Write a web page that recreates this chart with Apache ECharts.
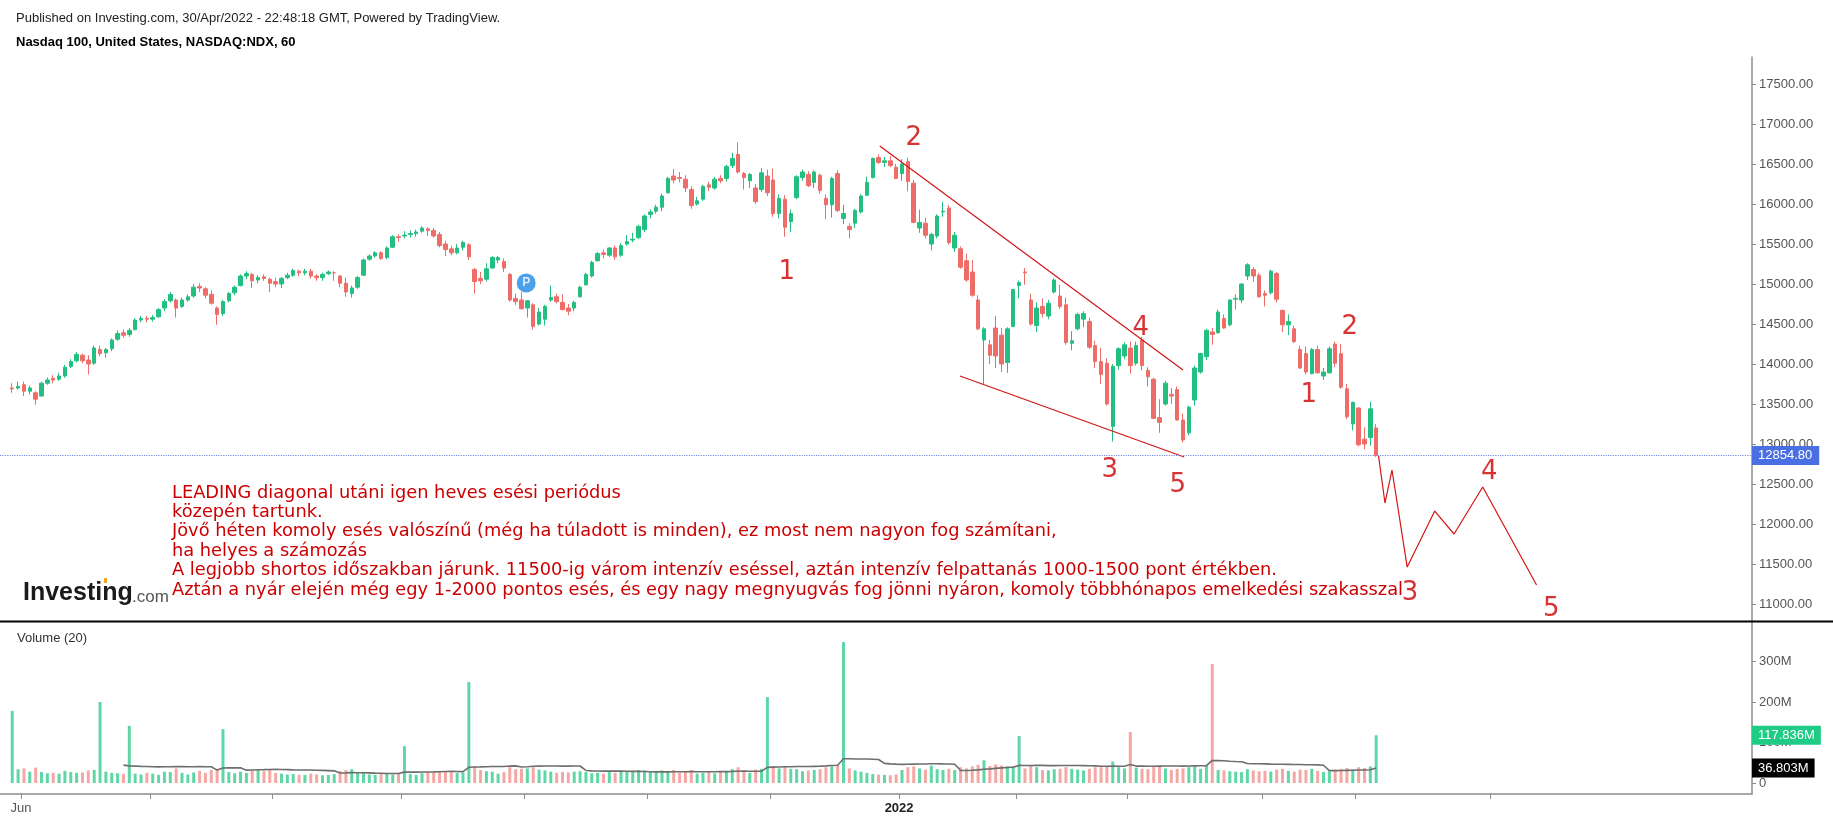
<!DOCTYPE html>
<html>
<head>
<meta charset="utf-8">
<title>Nasdaq 100, United States, NASDAQ:NDX, 60</title>
<script src="https://cdn.jsdelivr.net/npm/echarts@6.0.0/dist/echarts.min.js"></script>
<style>
html, body { margin: 0; padding: 0; background: #fff; }
#chart { width: 1833px; height: 821px; }
</style>
</head>
<body>
<div id="chart"></div>
<script>
// x positions are trading-day numbers counted from 27 May 2021 (day 0)
var xMin = -1.59, xMax = 297.7;
var monthTicks = [2, 24, 45, 67, 88, 109, 130, 152, 172, 191, 214, 230, 253];
var xLabelAt = [2, 152];
var xLabelText = ['Jun', '2022'];
var priceTicks = [11000, 11500, 12000, 12500, 13000, 13500, 14000, 14500, 15000, 15500, 16000, 16500, 17000, 17500];
var volTicks = [0, 100, 200, 300];
var lastPrice = 12854.8;
var volLast = 117.836;
var maLast = 36.803;

// [open, close, low, high]
var candles = [
  [13700,13690,13640,13760],[13700,13720,13680,13780],[13740,13660,13600,13780],[13660,13700,13620,13730],
  [13640,13560,13490,13660],[13600,13760,13590,13780],[13760,13800,13740,13830],[13820,13800,13760,13860],
  [13810,13850,13790,13890],[13850,13960,13830,13990],[13970,14030,13950,14060],[14040,14120,14020,14150],
  [14110,14040,14010,14130],[14050,14000,13870,14110],[14010,14200,13990,14230],[14180,14130,14100,14230],
  [14140,14180,14080,14200],[14190,14300,14160,14320],[14310,14380,14290,14420],[14390,14360,14330,14430],
  [14370,14420,14340,14450],[14430,14550,14420,14570],[14550,14570,14520,14600],[14570,14560,14520,14600],
  // Jul
  [14560,14580,14530,14610],[14590,14680,14580,14700],[14700,14780,14660,14810],[14790,14870,14770,14900],
  [14800,14700,14580,14820],[14720,14800,14700,14830],[14800,14840,14780,14870],[14850,14960,14830,15000],
  [14970,14950,14900,15010],[14940,14860,14820,14960],[14870,14760,14740,14920],[14700,14620,14490,14720],
  [14630,14780,14600,14800],[14790,14880,14770,14900],[14890,14960,14860,14980],[14980,15100,14970,15120],
  [15100,15130,15060,15160],[15120,15040,14950,15140],[15050,15080,15010,15110],[15090,15070,15040,15120],
  [15060,15010,14900,15080],
  // Aug
  [15030,15000,14960,15080],[15000,15070,14950,15090],[15080,15110,15060,15140],[15110,15170,15090,15190],
  [15160,15140,15100,15180],[15140,15160,15110,15190],[15160,15100,15070,15190],[15100,15080,15040,15120],
  [15080,15120,15040,15140],[15130,15150,15110,15170],[15140,15140,15040,15160],[15100,15010,14960,15110],
  [15010,14900,14840,15080],[14880,14950,14830,14980],[14960,15080,14940,15100],[15110,15300,15100,15320],
  [15310,15350,15290,15370],[15350,15390,15330,15410],[15390,15320,15300,15410],[15330,15450,15310,15470],
  [15460,15590,15450,15610],[15590,15580,15530,15620],
  // Sep
  [15600,15610,15570,15660],[15620,15630,15580,15670],[15630,15650,15590,15680],[15660,15700,15640,15720],
  [15690,15670,15600,15710],[15670,15600,15580,15700],[15620,15480,15460,15650],[15500,15430,15350,15540],
  [15440,15390,15360,15480],[15390,15450,15370,15500],[15460,15520,15420,15540],[15490,15340,15300,15510],
  [15180,15030,14880,15200],[15070,15040,15000,15150],[15060,15190,15030,15260],[15200,15330,15190,15350],
  [15300,15330,15260,15350],[15280,15200,15150,15320],[15120,14800,14780,15140],[14820,14780,14740,14880],
  [14800,14690,14680,14900],
  // Oct
  [14700,14790,14580,14800],[14740,14470,14430,14760],[14500,14650,14480,14700],[14560,14720,14480,14740],
  [14800,14830,14780,14980],[14840,14780,14760,14880],[14770,14680,14670,14870],[14700,14660,14610,14750],
  [14700,14770,14660,14790],[14840,14960,14830,14980],[14990,15120,14980,15140],[15100,15270,15080,15290],
  [15290,15380,15280,15400],[15390,15370,15320,15430],[15360,15450,15340,15460],[15450,15340,15300,15480],
  [15360,15480,15340,15510],[15500,15530,15480,15610],[15550,15560,15520,15640],[15580,15720,15560,15740],
  [15680,15850,15650,15870],
  // Nov
  [15870,15900,15820,15930],[15910,15960,15880,15990],[15960,16100,15910,16130],[16140,16320,16130,16340],
  [16350,16300,16260,16440],[16330,16320,16270,16400],[16310,16200,16150,16360],[16180,15980,15940,16220],
  [16000,16040,15980,16090],[16060,16220,16040,16240],[16240,16210,16160,16280],[16200,16310,16180,16340],
  [16320,16290,16260,16360],[16320,16470,16280,16490],[16480,16570,16450,16640],[16620,16400,16380,16770],
  [16380,16330,16180,16400],[16290,16370,16200,16390],[16200,16030,16000,16250],[16180,16390,16150,16450],
  [16350,16140,16100,16430],
  // Dec
  [16300,15880,15840,16440],[15880,16070,15820,16120],[16060,15710,15590,16110],[15780,15880,15650,15930],
  [16080,16340,16060,16360],[16330,16400,16290,16430],[16370,16230,16210,16410],[16270,16400,16200,16420],
  [16360,16170,16130,16380],[16070,15990,15810,16120],[15990,16320,15830,16340],[16380,15920,15900,16420],
  [15820,15880,15750,15990],[15720,15680,15570,15760],[15760,15920,15700,15940],[15900,16100,15880,16120],
  [16110,16270,16100,16340],[16330,16570,16320,16580],[16580,16520,16500,16620],[16520,16540,16460,16590],
  [16540,16480,16460,16600],[16460,16320,16310,16500],
  // Jan 2022
  [16380,16500,16290,16560],[16530,16280,16160,16580],[16260,15770,15760,16300],[15700,15770,15640,15930],
  [15760,15610,15570,15830],[15500,15620,15420,15640],[15600,15850,15570,15870],[15900,15910,15840,16030],
  [15950,15520,15490,15990],[15450,15610,15400,15650],[15440,15210,15190,15470],[15290,15050,15030,15380],
  [15150,14860,14840,15300],[14800,14440,14420,14860],[14300,14440,13740,14460],[14240,14110,14000,14300],
  [14450,14100,13950,14600],[14360,14000,13900,14450],[14020,14440,13890,14460],[14470,14930,14460,14940],
  // Feb
  [14980,15020,14820,15040],[15150,15140,14990,15200],[14800,14500,14480,14880],[14480,14700,14400,14770],
  [14720,14630,14580,14820],[14600,14760,14560,14800],[14900,15050,14880,15070],[14850,14720,14690,14990],
  [14740,14270,14240,14830],[14260,14290,14170,14410],[14440,14620,14420,14640],[14560,14630,14460,14660],
  [14530,14210,14190,14580],[14230,14030,13950,14290],[14030,13870,13750,14200],[14010,13500,13480,14070],
  [13220,13970,13030,14000],[13980,14190,13930,14210],[14100,14240,14060,14270],
  // Mar
  [14200,13980,13880,14280],[14010,14230,13980,14280],[14300,13980,13920,14340],[13920,13840,13720,13960],
  [13810,13320,13310,13830],[13330,13270,13140,13560],[13500,13760,13480,13790],[13620,13600,13500,13700],
  [13680,13300,13290,13720],[13300,13050,13020,13380],[13140,13460,13110,13480],[13550,13950,13480,13980],
  [13900,14130,13880,14140],[14090,14420,14050,14440],[14400,14370,14240,14450],[14390,14650,14380,14680],
  [14570,14450,14440,14620],[14490,14800,14470,14810],[14810,14820,14680,14870],[14800,15000,14760,15010],
  [15100,15240,15050,15260],[15180,15100,15030,15210],[15110,14840,14830,15140],
  // Apr
  [14880,14860,14720,14920],[14890,15160,14870,15180],[15130,14810,14770,15150],[14670,14490,14400,14680],
  [14490,14530,14360,14620],[14440,14280,14260,14480],[14180,13950,13940,14230],[14130,13900,13870,14220],
  [13880,14180,13870,14200],[14180,13890,13880,14230],[13850,13900,13800,13950],[13890,14190,13880,14220],
  [14250,14010,13960,14280],[14130,13710,13690,14250],[13690,13340,13310,13750],[13250,13520,13170,13530],
  [13450,12990,12970,13460],[13060,13000,12930,13210],[13080,13440,12980,13530],[13200,12854.8,12840,13250]
];

// volume, millions
var volumes = [
  178,34,36,28,38,27,24,25,23,30,27,25,26,31,32,200,28,25,24,22,141,23,21,25,
  23,20,28,27,36,25,21,26,30,25,32,35,133,27,24,28,25,31,34,29,32,
  25,23,21,22,20,20,23,21,19,20,22,29,32,34,27,25,21,20,22,24,21,23,
  91,22,20,24,27,25,28,29,27,25,26,249,41,32,29,28,23,27,39,34,35,
  36,39,33,31,28,25,27,26,28,29,27,24,25,23,27,25,28,29,29,32,31,
  27,28,31,29,32,25,28,32,23,25,27,24,28,29,34,39,31,25,33,35,212,
  42,36,41,35,34,29,31,32,34,39,41,43,348,36,31,28,25,22,21,20,19,21,
  32,39,41,36,33,43,34,32,35,32,39,36,41,45,56,42,46,43,41,38,
  116,36,43,39,32,31,34,35,39,35,33,31,35,39,39,41,53,39,36,
  126,38,35,34,39,42,36,32,35,36,39,41,35,43,294,32,31,29,28,27,34,31,29,
  30,28,33,35,30,28,33,32,35,30,27,29,33,35,37,33,39,37,41,117.836
];
// days whose tall volume bar reads green in the picture
var volGreenDays = [0, 15, 78, 129, 233];

// drawn annotations, in [day, price]
var trendUpper = [[148.7, 16725], [200.5, 13926]];
var trendLower = [[162.4, 13850], [200.7, 12838]];
var projection = [[233.9, 12854.8], [235.0, 12262], [236.2, 12675], [238.8, 11462],
                  [243.5, 12162], [246.8, 11875], [251.7, 12462], [260.9, 11237]];
var waveLabels = [
  [132.8, 15151, '1'], [154.5, 16825, '2'], [188.0, 12677, '3'], [193.3, 14451, '4'], [199.6, 12489, '5'],
  [222.0, 13614, '1'], [229.0, 14464, '2'], [239.3, 11140, '3'], [252.8, 12652, '4'], [263.4, 10940, '5']
];
var pMarker = [[88.3, 15013]];

var noteLines = [
  'LEADING diagonal utáni igen heves esési periódus',
  'közepén tartunk.',
  'Jövő héten komoly esés valószínű (még ha túladott is minden), ez most nem nagyon fog számítani,',
  'ha helyes a számozás',
  'A legjobb shortos időszakban járunk. 11500-ig várom intenzív eséssel, aztán intenzív felpattanás 1000-1500 pont értékben.',
  'Aztán a nyár elején még egy 1-2000 pontos esés, és egy nagy megnyugvás fog jönni nyáron, komoly többhónapos emelkedési szakasszal'
];

var upColor = '#22bf80', downColor = '#ee6d68';
var upVol = '#5fd6a6', downVol = '#f5a8a3';
var noteRed = '#cc0000';
var clear = 'rgba(0,0,0,0)';

var candleData = candles.map(function (c, i) { return [i + 0.5, c[0], c[1], c[2], c[3]]; });
var volData = volumes.map(function (v, i) {
  var up = candles[i][1] >= candles[i][0] || volGreenDays.indexOf(i) >= 0;
  return { value: [i + 0.5, v], itemStyle: { color: up ? upVol : downVol } };
});
// 20 period moving average of the volume (full windows only)
var volMA = [];
for (var i = 19; i < volumes.length; i++) {
  var s = 0;
  for (var k = i - 19; k <= i; k++) s += volumes[k];
  volMA.push([i + 0.5, s / 20]);
}

var axisGray = '#8c8c8c';
var labelFont = '"Liberation Sans", Arial, sans-serif';

var graphics = [
  { type: 'text', x: 16, y: 18, style: { text: 'Published on Investing.com, 30/Apr/2022 - 22:48:18 GMT, Powered by TradingView.', font: '13px ' + labelFont, fill: '#222', verticalAlign: 'middle' } },
  { type: 'text', x: 16, y: 42, style: { text: 'Nasdaq 100, United States, NASDAQ:NDX, 60', font: 'bold 13px ' + labelFont, fill: '#000', verticalAlign: 'middle' } },
  { type: 'line', shape: { x1: 0, y1: 621.5, x2: 1833, y2: 621.5 }, style: { stroke: '#000', lineWidth: 2 }, z: 10 },
  { type: 'text', x: 17, y: 638, style: { text: 'Volume (20)', font: '13px ' + labelFont, fill: '#333', verticalAlign: 'middle' } },
  { type: 'text', x: 23, y: 593, style: { text: 'Investing', font: 'bold 25px ' + labelFont, fill: '#1b1b1b', verticalAlign: 'middle' } },
  { type: 'text', x: 132, y: 597, style: { text: '.com', font: '17px ' + labelFont, fill: '#555', verticalAlign: 'middle' } },
  { type: 'rect', shape: { x: 104, y: 578, width: 3, height: 5 }, style: { fill: '#f5a623' } }
];
noteLines.forEach(function (t, i) {
  graphics.push({ type: 'text', x: 172, y: 493 + i * 19.4, style: { text: t, font: '17.8px "DejaVu Sans", Verdana, sans-serif', fill: noteRed, verticalAlign: 'middle' } });
});

var chart = echarts.init(document.getElementById('chart'));
chart.setOption({
  animation: false,
  backgroundColor: '#fff',
  textStyle: { fontFamily: labelFont },
  grid: [
    { left: 0, right: 81, top: 57, height: 564, outerBoundsMode: 'none' },
    { left: 0, right: 81, top: 622, height: 172, outerBoundsMode: 'none' }
  ],
  xAxis: [
    { gridIndex: 0, type: 'value', min: xMin, max: xMax, show: false },
    {
      gridIndex: 1, type: 'value', min: xMin, max: xMax,
      axisLine: { show: true, onZero: false, lineStyle: { color: axisGray, width: 1.5 } },
      axisTick: { show: true, customValues: monthTicks, length: 5, lineStyle: { color: axisGray } },
      axisLabel: {
        customValues: xLabelAt, color: '#555', fontSize: 13, margin: 8,
        formatter: function (v) {
          var t = xLabelText[xLabelAt.indexOf(v)] || '';
          return /^\d{4}$/.test(t) ? '{b|' + t + '}' : t;
        },
        rich: { b: { fontWeight: 'bold', color: '#222', fontSize: 13 } }
      },
      splitLine: { show: false }
    }
  ],
  yAxis: [
    {
      gridIndex: 0, type: 'value', position: 'right', min: 10787.5, max: 17837.5,
      axisLine: { show: true, onZero: false, lineStyle: { color: axisGray, width: 1.5 } },
      axisTick: { show: true, customValues: priceTicks, length: 4, lineStyle: { color: axisGray } },
      axisLabel: { customValues: priceTicks, color: '#555', fontSize: 13, margin: 7, formatter: function (v) { return v.toFixed(2); } },
      splitLine: { show: false }
    },
    {
      gridIndex: 1, type: 'value', position: 'right', min: -27.2, max: 397.5,
      axisLine: { show: true, onZero: false, lineStyle: { color: axisGray, width: 1.5 } },
      axisTick: { show: true, customValues: volTicks, length: 4, lineStyle: { color: axisGray } },
      axisLabel: { customValues: volTicks, color: '#555', fontSize: 13, margin: 7, formatter: function (v) { return v === 0 ? '0' : v + 'M'; } },
      splitLine: { show: false }
    }
  ],
  series: [
    {
      type: 'candlestick', xAxisIndex: 0, yAxisIndex: 0, data: candleData, barWidth: 4,
      itemStyle: { color: upColor, color0: downColor, borderColor: upColor, borderColor0: downColor, borderWidth: 1 },
      markLine: {
        silent: true, symbol: ['none', 'none'],
        lineStyle: { type: 'dotted', color: '#6b8cf2', width: 1.2 },
        label: { show: true, position: 'end', distance: 0, formatter: lastPrice.toFixed(2), color: '#fff', backgroundColor: '#4a6fe3', padding: [3, 7, 3, 6], fontSize: 13 },
        data: [{ yAxis: lastPrice }]
      }
    },
    { type: 'line', xAxisIndex: 0, yAxisIndex: 0, data: trendUpper, showSymbol: false, lineStyle: { color: '#d41515', width: 1.2 } },
    { type: 'line', xAxisIndex: 0, yAxisIndex: 0, data: trendLower, showSymbol: false, lineStyle: { color: '#d41515', width: 1.2 } },
    { type: 'line', xAxisIndex: 0, yAxisIndex: 0, data: projection, showSymbol: false, lineStyle: { color: '#d41515', width: 1.2 } },
    {
      type: 'scatter', xAxisIndex: 0, yAxisIndex: 0, data: waveLabels, symbolSize: 2, itemStyle: { color: clear },
      label: { show: true, position: 'inside', formatter: function (p) { return p.data[2]; }, color: noteRed, fontSize: 26, fontFamily: '"DejaVu Sans", Verdana, sans-serif' }
    },
    {
      type: 'scatter', xAxisIndex: 0, yAxisIndex: 0, data: pMarker, symbol: 'circle', symbolSize: 19, itemStyle: { color: '#1e88e5' },
      label: { show: true, position: 'inside', formatter: 'P', color: '#fff', fontWeight: 'bold', fontSize: 12 }
    },
    {
      type: 'bar', xAxisIndex: 1, yAxisIndex: 1, data: volData, barWidth: 3,
      markLine: {
        silent: true, symbol: ['none', 'none'], lineStyle: { color: clear, width: 0 },
        data: [
          { yAxis: volLast, label: { show: true, position: 'end', distance: 0, formatter: volLast.toFixed(3) + 'M', color: '#fff', backgroundColor: '#1fcb85', padding: [3, 6, 3, 6], fontSize: 13 } },
          { yAxis: maLast, label: { show: true, position: 'end', distance: 0, formatter: maLast.toFixed(3) + 'M', color: '#fff', backgroundColor: '#000', padding: [3, 6, 3, 6], fontSize: 13 } }
        ]
      }
    },
    { type: 'line', xAxisIndex: 1, yAxisIndex: 1, data: volMA, showSymbol: false, lineStyle: { color: '#6e6e6e', width: 1.6 } }
  ],
  graphic: graphics
});
</script>
</body>
</html>
